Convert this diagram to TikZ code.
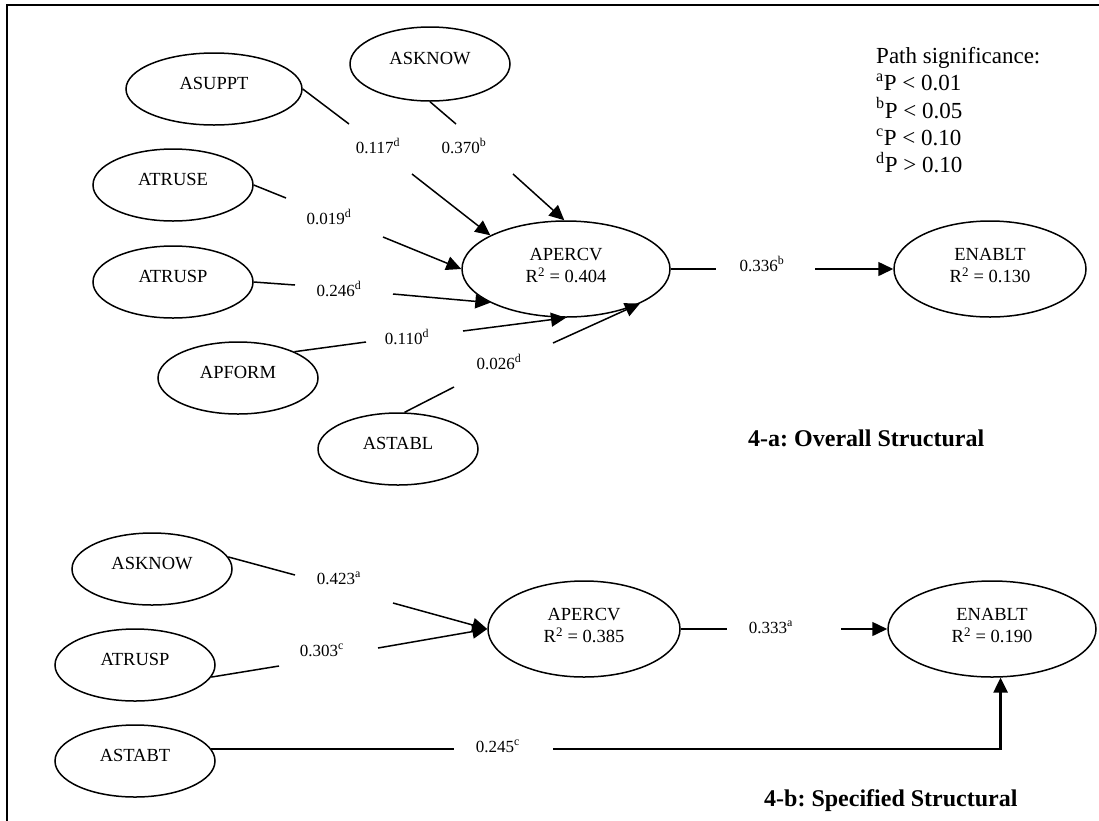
\documentclass[tikz,border=0pt]{standalone}
\usepackage{fontspec}
\setmainfont{Liberation Serif}
\frenchspacing
\usetikzlibrary{arrows.meta}
\usetikzlibrary{shapes.geometric}
\tikzset{latent/.style = {draw, ellipse, line width=1.5pt, inner sep=0pt,
                          minimum width=160pt, minimum height=72pt,
                          font=\fontsize{18.5}{22}\selectfont, text depth=12pt}}
\tikzset{outcome/.style = {latent, align=center, minimum width=208pt,
                           minimum height=96pt, text depth=7pt}}
\tikzset{coef/.style = {font=\fontsize{17}{20}\selectfont, inner sep=0pt, anchor=base}}
\tikzset{link/.style = {line width=1.5pt}}
\tikzset{arrowto/.style = {link, -{Triangle[length=15pt, width=14pt]}}}
\tikzset{heading/.style = {font=\fontsize{24}{28}\selectfont\bfseries, inner sep=0pt, anchor=base west}}

\begin{document}
\begin{tikzpicture}[x=1pt, y=-1pt]
    \useasboundingbox (0,0) rectangle (1099,820);
    \draw [line width=2pt] (7,821) -- (7,5) -- (1100,5);

    % 4-a: overall model
    \node [latent, minimum width=176pt] (asuppt) at (214,89) {ASUPPT};
    \node [latent, minimum height=74pt] (asknowa) at (430,64) {ASKNOW};
    \node [latent] (atruse) at (173,185) {ATRUSE};
    \node [latent] (atruspa) at (173,282) {ATRUSP};
    \node [latent] (apform) at (238,378) {APFORM};
    \node [latent] (astabl) at (398,449) {ASTABL};
    \node [outcome] (apercva) at (566,269) {APERCV\\R\textsuperscript{2} = 0.404};
    \node [outcome, minimum width=192pt] (enablta) at (990,269) {ENABLT\\R\textsuperscript{2} = 0.130};

    \coordinate (suppt-a) at (349,124);  \coordinate (suppt-b) at (412,174);
    \coordinate (know-a) at (456,124);   \coordinate (know-b) at (513,174);
    \coordinate (truse-a) at (286,198);  \coordinate (truse-b) at (383,237);
    \coordinate (trusp-a) at (295,285);  \coordinate (trusp-b) at (393,294);
    \coordinate (form-a) at (366,342);   \coordinate (form-b) at (463,331);
    \coordinate (stabl-a) at (454,387);  \coordinate (stabl-b) at (553,343);
    \coordinate (percv-a) at (716,269);  \coordinate (percv-b) at (815,269);

    \draw [link] (asuppt.east) -- (suppt-a);
    \draw [arrowto] (suppt-b) -- (apercva.156);
    \draw [link] (asknowa.south) -- (know-a);
    \draw [arrowto] (know-b) -- (apercva.92);
    \draw [link] (atruse.east) -- (truse-a);
    \draw [arrowto] (truse-b) -- (apercva.west);
    \draw [link] (atruspa.east) -- (trusp-a);
    \draw [arrowto] (trusp-b) -- (apercva.204);
    \draw [link] (apform.25) -- (form-a);
    \draw [arrowto] (form-b) -- (apercva.south);
    \draw [link] (astabl.80) -- (stabl-a);
    \draw [arrowto] (stabl-b) -- (apercva.335);
    \draw [link] (apercva.east) -- (percv-a);
    \draw [arrowto] (percv-b) -- (enablta.west);

    \node [coef] (c-suppt) at (378,153) {0.117\textsuperscript{d}};
    \node [coef] (c-knowa) at (464,153) {0.370\textsuperscript{b}};
    \node [coef] (c-truse) at (329,224) {0.019\textsuperscript{d}};
    \node [coef] (c-truspa) at (339,296) {0.246\textsuperscript{d}};
    \node [coef] (c-form) at (407,344) {0.110\textsuperscript{d}};
    \node [coef] (c-stabl) at (499,369) {0.026\textsuperscript{d}};
    \node [coef] (c-percva) at (762,271) {0.336\textsuperscript{b}};

    \node [font=\fontsize{23}{27.3}\selectfont, align=left, inner sep=0pt,
           anchor=north west] (signif) at (876,47)
          {Path significance:\\
           \textsuperscript{a}P < 0.01\\
           \textsuperscript{b}P < 0.05\\
           \textsuperscript{c}P < 0.10\\
           \textsuperscript{d}P > 0.10};
    \node [heading] (parta) at (748,446) {4-a: Overall Structural};

    % 4-b: specified model
    \node [latent] (asknowb) at (152,569) {ASKNOW};
    \node [latent] (atruspb) at (135,665) {ATRUSP};
    \node [latent] (astabt) at (135,761) {ASTABT};
    \node [outcome, minimum width=192pt] (apercvb) at (584,629) {APERCV\\R\textsuperscript{2} = 0.385};
    \node [outcome] (enabltb) at (992,629) {ENABLT\\R\textsuperscript{2} = 0.190};

    \coordinate (knowb-a) at (295,575);  \coordinate (knowb-b) at (393,603);
    \coordinate (truspb-a) at (279,666); \coordinate (truspb-b) at (378,648);
    \coordinate (stabt-a) at (454,749);  \coordinate (stabt-b) at (553,749);
    \coordinate (percvb-a) at (727,629); \coordinate (percvb-b) at (841,629);

    \draw [link] (asknowb.9) -- (knowb-a);
    \draw [arrowto] (knowb-b) -- (apercvb.west);
    \draw [link] (atruspb.351) -- (truspb-a);
    \draw [arrowto] (truspb-b) -- (apercvb.west);
    \draw [link, line width=2.5pt] (astabt.9) -- (astabt.9 -| stabt-a);
    \draw [arrowto, line width=2.5pt] (astabt.9 -| stabt-b) -| (enabltb.-80);
    \draw [link] (apercvb.east) -- (percvb-a);
    \draw [arrowto] (percvb-b) -- (enabltb.west);

    \node [coef] (c-knowb) at (339,584) {0.423\textsuperscript{a}};
    \node [coef] (c-truspb) at (322,656) {0.303\textsuperscript{c}};
    \node [coef] (c-stabt) at (498,752) {0.245\textsuperscript{c}};
    \node [coef] (c-percvb) at (771,633) {0.333\textsuperscript{a}};

    \node [heading] (partb) at (764,806) {4-b: Specified Structural};
\end{tikzpicture}
\end{document}
